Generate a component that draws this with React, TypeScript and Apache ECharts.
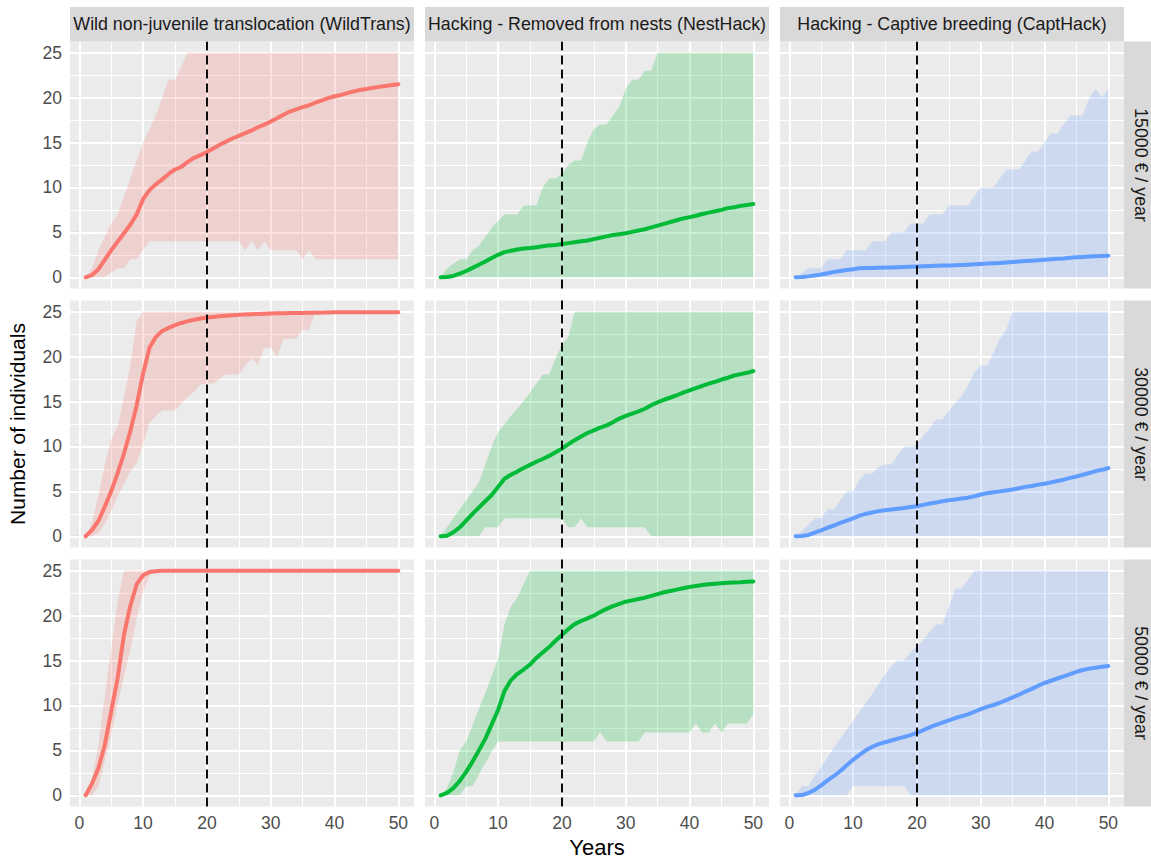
import React, { useEffect, useRef } from "react";
import * as echarts from "echarts";

// ---------------- data ----------------
const YEARS = [1,2,3,4,5,6,7,8,9,10,11,12,13,14,15,16,17,18,19,20,21,22,23,24,25,26,27,28,29,30,31,32,33,34,35,36,37,38,39,40,41,42,43,44,45,46,47,48,49,50];
const X_TICKS = [0, 10, 20, 30, 40, 50];
const X_MINOR = [5, 15, 25, 35, 45];
const Y_TICKS = [0, 5, 10, 15, 20, 25];
const Y_MINOR = [2.5, 7.5, 12.5, 17.5, 22.5];
const VLINE_YEAR = 20;

const STRATEGIES = [
  "Wild non-juvenile translocation (WildTrans)",
  "Hacking - Removed from nests (NestHack)",
  "Hacking - Captive breeding (CaptHack)",
];
const BUDGETS = ["15000 € / year", "30000 € / year", "50000 € / year"];
const COLORS = ["#F8766D", "#00BA38", "#619CFF"];

// WildTrans
const WILD_15000_MEDIAN = [0,0.25,0.9,1.95,3.0,3.95,4.9,5.85,7.0,8.7,9.7,10.35,10.9,11.5,12.0,12.3,12.85,13.3,13.6,13.95,14.35,14.75,15.1,15.45,15.75,16.05,16.35,16.7,17.0,17.35,17.7,18.1,18.45,18.7,18.95,19.15,19.45,19.7,19.95,20.15,20.3,20.5,20.7,20.85,20.95,21.1,21.2,21.3,21.4,21.5];
const WILD_15000_LOWER = [0,0,0,0,0.5,1,1,2,2,3,4,4,4,4,4,4,4,4,4,4,4,4,4,4,4,3,4,3,4,3,3,3,3,3,2,3,2,2,2,2,2,2,2,2,2,2,2,2,2,2];
const WILD_15000_UPPER = [0,1,3,4.5,6,7,9,11,13,15,16.5,18,20,22,22,23.5,25,25,25,25,25,25,25,25,25,25,25,25,25,25,25,25,25,25,25,25,25,25,25,25,25,25,25,25,25,25,25,25,25,25];

const WILD_30000_MEDIAN = [0,0.7,1.7,3.3,5.0,7.0,9.2,11.7,14.6,18.1,21.0,22.2,22.85,23.2,23.5,23.75,23.95,24.1,24.25,24.35,24.42,24.5,24.55,24.6,24.65,24.7,24.73,24.76,24.78,24.8,24.82,24.84,24.85,24.86,24.87,24.88,24.9,24.9,24.92,24.93,24.93,24.93,24.94,24.94,24.95,24.95,24.95,24.95,24.95,24.95];
const WILD_30000_LOWER = [0,0,0.3,1.4,2.8,4.4,5.8,7.2,8.2,10.2,12.6,13.4,14,14,14,14.8,15.5,16.1,16.9,17,17,17.5,18,18,18,19,19.8,19.1,21,21,20,22,22,22,23,23,25,25,25,25,25,25,25,25,25,25,25,25,25,25];
const WILD_30000_UPPER = [0,1.5,4.5,8,10.8,12.2,15.5,19,24,25,25,25,25,25,25,25,25,25,25,25,25,25,25,25,25,25,25,25,25,25,25,25,25,25,25,25,25,25,25,25,25,25,25,25,25,25,25,25,25,25];

const WILD_50000_MEDIAN = [0,1.3,3.0,5.6,9.3,13.0,17.85,21.1,23.5,24.5,24.85,24.95,25,25,25,25,25,25,25,25,25,25,25,25,25,25,25,25,25,25,25,25,25,25,25,25,25,25,25,25,25,25,25,25,25,25,25,25,25,25];
const WILD_50000_LOWER = [0,0,1,3.8,6.6,10.2,13.2,16.2,19.7,22.7,24.4,25,25,25,25,25,25,25,25,25,25,25,25,25,25,25,25,25,25,25,25,25,25,25,25,25,25,25,25,25,25,25,25,25,25,25,25,25,25,25];
const WILD_50000_UPPER = [0,1.9,5.5,11,16.3,21.5,25,25,25,25,25,25,25,25,25,25,25,25,25,25,25,25,25,25,25,25,25,25,25,25,25,25,25,25,25,25,25,25,25,25,25,25,25,25,25,25,25,25,25,25];

// NestHack
const NEST_15000_MEDIAN = [0,0.03,0.15,0.4,0.7,1.05,1.4,1.75,2.15,2.5,2.8,2.95,3.1,3.2,3.25,3.35,3.45,3.55,3.6,3.7,3.8,3.9,4.0,4.1,4.25,4.4,4.55,4.7,4.8,4.9,5.05,5.2,5.35,5.55,5.75,5.95,6.15,6.35,6.55,6.7,6.85,7.05,7.2,7.35,7.5,7.7,7.8,7.95,8.05,8.15];
const NEST_15000_LOWER = [0,0,0,0,0,0,0,0,0,0,0,0,0,0,0,0,0,0,0,0,0,0,0,0,0,0,0,0,0,0,0,0,0,0,0,0,0,0,0,0,0,0,0,0,0,0,0,0,0,0];
const NEST_15000_UPPER = [0,1,1.5,2,2,3,3.5,4.5,5.5,6.3,7,7,7,8,8,8,10,11,11,11.5,12.5,13,13,15,16.5,17,17,18,19,21,22,22,23,23,25,25,25,25,25,25,25,25,25,25,25,25,25,25,25,25];

const NEST_30000_MEDIAN = [0,0.07,0.45,1.0,1.75,2.5,3.2,3.9,4.6,5.5,6.4,6.85,7.2,7.6,7.95,8.3,8.6,8.95,9.35,9.75,10.25,10.7,11.1,11.5,11.8,12.1,12.35,12.7,13.1,13.4,13.65,13.9,14.2,14.6,14.9,15.2,15.45,15.7,16.0,16.25,16.5,16.75,17.0,17.2,17.45,17.65,17.9,18.05,18.2,18.4];
const NEST_30000_LOWER = [0,0,0,0,0,0,0,1,1,1,2,2,2,2,2,2,2,2,2,2,1,1,2,1,1,1,1,1,1,1,1,1,1,0,0,0,0,0,0,0,0,0,0,0,0,0,0,0,0,0];
const NEST_30000_UPPER = [0,1,2,3,4,5,6,8,10,11.6,12.5,13.4,14.2,15.1,16,17,18,18,19.8,21.3,22.2,25,25,25,25,25,25,25,25,25,25,25,25,25,25,25,25,25,25,25,25,25,25,25,25,25,25,25,25,25];

const NEST_50000_MEDIAN = [0,0.26,0.8,1.6,2.6,3.75,5.0,6.3,7.9,9.5,11.6,12.8,13.5,14.0,14.55,15.3,15.9,16.5,17.2,17.85,18.5,19.05,19.4,19.7,20.0,20.4,20.75,21.05,21.3,21.55,21.7,21.85,22.0,22.2,22.4,22.6,22.75,22.9,23.05,23.2,23.3,23.4,23.5,23.55,23.6,23.65,23.7,23.72,23.76,23.8];
const NEST_50000_LOWER = [0,0,0,0,1,1,2.3,3.6,4.9,6,6,6,6,6,6,6,6,6,6,6,6,6,6,6,6,7,6,6,6,6,6,6,7,7,7,7,7,7,7,7,8,7,7,8,7,8,8,8,8,9];
const NEST_50000_UPPER = [0,0.8,2.6,5,6,7.8,9.6,11.4,13.3,15.2,19,21,22,23.5,25,25,25,25,25,25,25,25,25,25,25,25,25,25,25,25,25,25,25,25,25,25,25,25,25,25,25,25,25,25,25,25,25,25,25,25];

// CaptHack
const CAPT_15000_MEDIAN = [0,0.03,0.1,0.2,0.3,0.45,0.6,0.7,0.8,0.9,1.0,1.02,1.04,1.06,1.08,1.1,1.12,1.15,1.17,1.2,1.22,1.25,1.27,1.3,1.32,1.35,1.37,1.4,1.44,1.48,1.52,1.56,1.6,1.65,1.7,1.75,1.8,1.85,1.9,1.95,2.0,2.05,2.1,2.17,2.23,2.27,2.3,2.33,2.36,2.4];
const CAPT_15000_LOWER = [0,0,0,0,0,0,0,0,0,0,0,0,0,0,0,0,0,0,0,0,0,0,0,0,0,0,0,0,0,0,0,0,0,0,0,0,0,0,0,0,0,0,0,0,0,0,0,0,0,0];
const CAPT_15000_UPPER = [0,0.5,1,1,1,2,2,2,3,3,3,3,4,4,4,5,5,5,6,6,6,7,7,7,8,8,8,8,9,10,10,10,11,12,12,12,13,14,14,15,16,16,17,18,18,18,20,21,20,21];

const CAPT_30000_MEDIAN = [0,0.03,0.15,0.4,0.65,0.95,1.2,1.5,1.75,2.0,2.3,2.5,2.65,2.8,2.9,2.98,3.07,3.15,3.25,3.35,3.5,3.65,3.75,3.9,4.0,4.1,4.2,4.3,4.45,4.65,4.8,4.9,5.0,5.1,5.2,5.35,5.5,5.6,5.75,5.85,6.0,6.15,6.3,6.5,6.65,6.85,7.05,7.25,7.4,7.6];
const CAPT_30000_LOWER = [0,0,0,0,0,0,0,0,0,0,0,0,0,0,0,0,0,0,0,0,0,0,0,0,0,0,0,0,0,0,0,0,0,0,0,0,0,0,0,0,0,0,0,0,0,0,0,0,0,0];
const CAPT_30000_UPPER = [0,0.6,1.3,2,2,3,3,4,5,5,6.3,7,7,7.7,8,8,9,10,10,10.2,11.2,12,13,13,14,14.8,15.6,16.8,18.2,19,19,20.4,22,23,25,25,25,25,25,25,25,25,25,25,25,25,25,25,25,25];

const CAPT_50000_MEDIAN = [0,0.02,0.25,0.6,1.1,1.65,2.15,2.7,3.35,3.95,4.5,5.0,5.4,5.7,5.9,6.1,6.3,6.5,6.7,6.95,7.25,7.55,7.85,8.1,8.35,8.6,8.8,9.0,9.3,9.6,9.85,10.05,10.3,10.6,10.9,11.2,11.55,11.85,12.2,12.5,12.75,13.0,13.25,13.5,13.75,13.95,14.1,14.2,14.3,14.4];
const CAPT_50000_LOWER = [0,0,0,0,0,0,0,0,0,1,1,1,1,1,1,1,1,1,0,0,0,0,0,0,0,0,0,0,0,0,0,0,0,0,0,0,0,0,0,0,0,0,0,0,0,0,0,0,0,0];
const CAPT_50000_UPPER = [0,1,1,2.2,3.2,4.2,5.3,6.3,7.3,8.3,9.3,10.3,11.3,12.4,13.4,14.4,15,15,15.9,16.5,17.3,18.2,19,19,21,23,23,24,25,25,25,25,25,25,25,25,25,25,25,25,25,25,25,25,25,25,25,25,25,25];

// rows = budgets, cols = strategies
const PANELS = [
  [
    { median: WILD_15000_MEDIAN, lower: WILD_15000_LOWER, upper: WILD_15000_UPPER },
    { median: NEST_15000_MEDIAN, lower: NEST_15000_LOWER, upper: NEST_15000_UPPER },
    { median: CAPT_15000_MEDIAN, lower: CAPT_15000_LOWER, upper: CAPT_15000_UPPER },
  ],
  [
    { median: WILD_30000_MEDIAN, lower: WILD_30000_LOWER, upper: WILD_30000_UPPER },
    { median: NEST_30000_MEDIAN, lower: NEST_30000_LOWER, upper: NEST_30000_UPPER },
    { median: CAPT_30000_MEDIAN, lower: CAPT_30000_LOWER, upper: CAPT_30000_UPPER },
  ],
  [
    { median: WILD_50000_MEDIAN, lower: WILD_50000_LOWER, upper: WILD_50000_UPPER },
    { median: NEST_50000_MEDIAN, lower: NEST_50000_LOWER, upper: NEST_50000_UPPER },
    { median: CAPT_50000_MEDIAN, lower: CAPT_50000_LOWER, upper: CAPT_50000_UPPER },
  ],
];

// ---------------- layout ----------------
const W = 1151;
const H = 859;
const COL_LEFT = [70, 425, 780];
const PANEL_W = 344;
const ROW_TOP = [41.5, 300.5, 559.5];
const PANEL_H = 247;
const STRIP = 34.5;
const XMIN = -1.45, XMAX = 52.45;
const YMIN = -1.25, YMAX = 26.25;
const FONT = '"Liberation Sans", Arial, Helvetica, sans-serif';

function hexToRgba(hex: string, a: number) {
  const n = parseInt(hex.slice(1), 16);
  return `rgba(${(n >> 16) & 255},${(n >> 8) & 255},${n & 255},${a})`;
}

function buildOption() {
  const grid: any[] = [];
  const xAxis: any[] = [];
  const yAxis: any[] = [];
  const series: any[] = [];
  const graphic: any[] = [];

  for (let r = 0; r < 3; r++) {
    for (let c = 0; c < 3; c++) {
      const i = r * 3 + c;
      const p = PANELS[r][c];
      const color = COLORS[c];
      grid.push({
        left: COL_LEFT[c], top: ROW_TOP[r], width: PANEL_W, height: PANEL_H,
        show: true, backgroundColor: "#EBEBEB", borderWidth: 0,
      });
      xAxis.push({
        gridIndex: i, type: "value", min: XMIN, max: XMAX,
        axisLine: { show: false }, splitLine: { show: false },
        axisTick: { show: r === 2, customValues: X_TICKS, length: 5, lineStyle: { color: "#333333", width: 1.1 } },
        axisLabel: { show: r === 2, customValues: X_TICKS, color: "#4D4D4D", fontSize: 17.5, margin: 7, fontFamily: FONT },
      });
      yAxis.push({
        gridIndex: i, type: "value", min: YMIN, max: YMAX,
        axisLine: { show: false }, splitLine: { show: false },
        axisTick: { show: c === 0, customValues: Y_TICKS, length: 5, lineStyle: { color: "#333333", width: 1.1 } },
        axisLabel: { show: c === 0, customValues: Y_TICKS, color: "#4D4D4D", fontSize: 17.5, margin: 8, fontFamily: FONT },
      });
      // grid lines
      series.push({
        type: "line", xAxisIndex: i, yAxisIndex: i, data: [], silent: true,
        markLine: {
          silent: true, z: 1, symbol: ["none", "none"], label: { show: false }, animation: false,
          emphasis: { disabled: true },
          lineStyle: { color: "#FFFFFF", type: "solid" },
          data: [
            ...X_MINOR.map((v) => ({ xAxis: v, lineStyle: { width: 1, color: "#FFFFFF", type: "solid" } })),
            ...Y_MINOR.map((v) => ({ yAxis: v, lineStyle: { width: 1, color: "#FFFFFF", type: "solid" } })),
            ...X_TICKS.map((v) => ({ xAxis: v, lineStyle: { width: 2, color: "#FFFFFF", type: "solid" } })),
            ...Y_TICKS.map((v) => ({ yAxis: v, lineStyle: { width: 2, color: "#FFFFFF", type: "solid" } })),
          ],
        },
      });
      // ribbon
      const ribbonData = YEARS.map((x, k) => [x, p.lower[k], p.upper[k]]);
      const fill = hexToRgba(color, 0.22);
      series.push({
        type: "custom", xAxisIndex: i, yAxisIndex: i, z: 2, silent: true, clip: true,
        data: ribbonData,
        encode: { x: 0, y: [1, 2] },
        renderItem: (params: any, api: any) => {
          if (params.dataIndex !== 0) return null;
          const pts: number[][] = [];
          for (let k = 0; k < ribbonData.length; k++) pts.push(api.coord([ribbonData[k][0], ribbonData[k][2]]));
          for (let k = ribbonData.length - 1; k >= 0; k--) pts.push(api.coord([ribbonData[k][0], ribbonData[k][1]]));
          return { type: "polygon", shape: { points: pts }, style: { fill, stroke: null } };
        },
      });
      // median line + vertical dashed line
      series.push({
        type: "line", xAxisIndex: i, yAxisIndex: i, z: 3, silent: true,
        data: YEARS.map((x, k) => [x, p.median[k]]),
        showSymbol: false, symbol: "none",
        lineStyle: { color, width: 4, cap: "round", join: "round" },
        emphasis: { disabled: true },
        markLine: {
          silent: true, z: 5, symbol: ["none", "none"], label: { show: false },
          emphasis: { disabled: true },
          lineStyle: { color: "#000000", type: [9, 5], width: 1.9 },
          data: [{ xAxis: VLINE_YEAR }],
        },
      });
    }
  }

  // top strips
  for (let c = 0; c < 3; c++) {
    graphic.push({
      type: "rect", z: 10, silent: true,
      shape: { x: COL_LEFT[c], y: ROW_TOP[0] - STRIP, width: PANEL_W, height: STRIP },
      style: { fill: "#D9D9D9" },
    });
    graphic.push({
      type: "text", z: 11, silent: true,
      x: COL_LEFT[c] + PANEL_W / 2, y: ROW_TOP[0] - STRIP / 2,
      style: {
        text: STRATEGIES[c], fill: "#1A1A1A", font: `17.8px ${FONT}`,
        textAlign: "center", textVerticalAlign: "middle", align: "center", verticalAlign: "middle",
      },
    });
  }
  // right strips
  const stripX = COL_LEFT[2] + PANEL_W;
  for (let r = 0; r < 3; r++) {
    graphic.push({
      type: "rect", z: 10, silent: true,
      shape: { x: stripX, y: ROW_TOP[r], width: STRIP, height: PANEL_H },
      style: { fill: "#D9D9D9" },
    });
    graphic.push({
      type: "text", z: 11, silent: true,
      x: stripX + STRIP / 2, y: ROW_TOP[r] + PANEL_H / 2, rotation: -Math.PI / 2,
      style: {
        text: BUDGETS[r], fill: "#1A1A1A", font: `17.8px ${FONT}`,
        textAlign: "center", textVerticalAlign: "middle", align: "center", verticalAlign: "middle",
      },
    });
  }
  // axis titles
  graphic.push({
    type: "text", z: 11, silent: true,
    x: (COL_LEFT[0] + COL_LEFT[2] + PANEL_W) / 2, y: 847,
    style: {
      text: "Years", fill: "#000000", font: `22px ${FONT}`,
      textAlign: "center", textVerticalAlign: "middle", align: "center", verticalAlign: "middle",
    },
  });
  graphic.push({
    type: "text", z: 11, silent: true,
    x: 17, y: (ROW_TOP[0] + ROW_TOP[2] + PANEL_H) / 2, rotation: Math.PI / 2,
    style: {
      text: "Number of individuals", fill: "#000000", font: `21px ${FONT}`,
      textAlign: "center", textVerticalAlign: "middle", align: "center", verticalAlign: "middle",
    },
  });

  return {
    animation: false,
    backgroundColor: "#FFFFFF",
    textStyle: { fontFamily: FONT },
    grid, xAxis, yAxis, series, graphic,
  };
}

export default function App() {
  const ref = useRef<HTMLDivElement>(null);
  useEffect(() => {
    if (!ref.current) return;
    const chart = echarts.init(ref.current, null, { renderer: "svg", width: W, height: H });
    chart.setOption(buildOption() as any);
    return () => chart.dispose();
  }, []);
  return <div ref={ref} style={{ position: "absolute", left: 0, top: 0, width: W, height: H }} />;
}
